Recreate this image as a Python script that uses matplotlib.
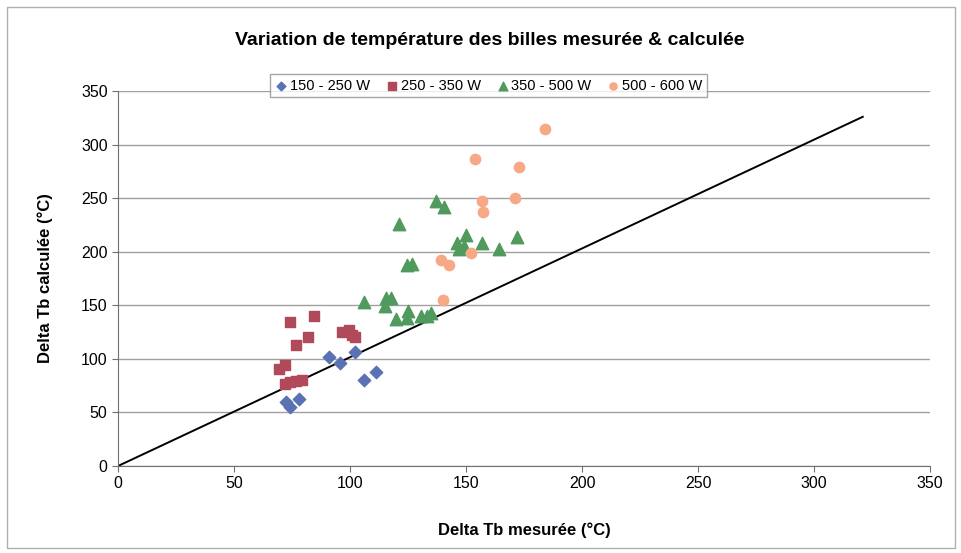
import matplotlib
matplotlib.use("Agg")
import matplotlib.pyplot as plt
from matplotlib.patches import Rectangle

plt.rcParams['font.family'] = ['Liberation Sans', 'DejaVu Sans']

# Data
x_150_250 = [72.5, 74, 78, 91, 95.5, 102, 106, 111]
y_150_250 = [60, 55, 63, 102, 96, 106, 80, 88]

x_250_350 = [69.5, 72, 74, 76.5, 72, 74, 76.5, 79.5, 82, 84.5, 96.5, 99.5, 101, 102]
y_250_350 = [91, 94, 134, 113, 77, 78, 79, 80, 120, 140, 125, 127, 122, 120]

x_350_500 = [106, 115, 115.5, 117.5, 120, 121, 124.5, 126.5, 125, 124.5, 130.5,
             133, 135, 137, 140.5, 146, 147, 149, 150, 157, 164, 172]
y_350_500 = [153, 149, 157, 157, 137, 226, 188, 189, 145, 138, 140,
             140, 143, 247, 242, 208, 203, 205, 216, 208, 203, 214]

x_500_600 = [154, 173, 184, 157, 157.5, 171, 152, 139, 142.5, 140]
y_500_600 = [287, 279, 315, 247, 237, 250, 199, 192, 188, 155]

line_x = [0, 321]
line_y = [0, 326]

xticks = [0, 50, 100, 150, 200, 250, 300, 350]
yticks = [0, 50, 100, 150, 200, 250, 300, 350]

fig = plt.figure(figsize=(9.61, 5.53), dpi=100)
fig.patches.append(Rectangle((7/961, 5/553), 948/961, 541/553, transform=fig.transFigure,
                             fill=False, edgecolor='#b0b0b0', linewidth=1.0))
ax = fig.add_axes([0.1228, 0.1573, 0.845, 0.678])

ax.set_xlim(0, 350)
ax.set_ylim(0, 350)
ax.set_xticks(xticks)
ax.set_yticks(yticks)
ax.grid(axis='y', color='#a0a0a0', linewidth=1.0)
ax.set_axisbelow(True)
for s in ['top', 'right']:
    ax.spines[s].set_visible(False)
ax.spines['left'].set_color('#707070')
ax.spines['bottom'].set_color('#707070')
ax.tick_params(direction='out', length=4, color='#707070', labelsize=11.5)

ax.plot(line_x, line_y, color='black', linewidth=1.4, zorder=2)

ax.scatter(x_150_250, y_150_250, marker='D', s=40, color='#5a72b4', label='150 - 250 W', zorder=3)
ax.scatter(x_250_350, y_250_350, marker='s', s=55, color='#b04a5a', label='250 - 350 W', zorder=3)
ax.scatter(x_350_500, y_350_500, marker='^', s=80, color='#4f9a5c', label='350 - 500 W', zorder=3)
ax.scatter(x_500_600, y_500_600, marker='o', s=55, color='#f8a884', label='500 - 600 W', zorder=3)

fig.text(0.51, 0.927, 'Variation de température des billes mesurée & calculée',
         ha='center', va='center', fontsize=14, fontweight='bold')
ax.set_xlabel('Delta Tb mesurée (°C)', fontsize=12, fontweight='bold', labelpad=22)
ax.set_ylabel('Delta Tb calculée (°C)', fontsize=12, fontweight='bold', labelpad=20)

leg = fig.legend(loc='center', bbox_to_anchor=(0.508, 0.845), ncol=4, fontsize=10.5,
                 frameon=True, fancybox=False, edgecolor='#909090', handletextpad=0.1,
                 columnspacing=1.0, borderpad=0.3, markerscale=0.7, handlelength=1.0)
leg.get_frame().set_linewidth(1.0)

fig.savefig('out.png', dpi=100)
